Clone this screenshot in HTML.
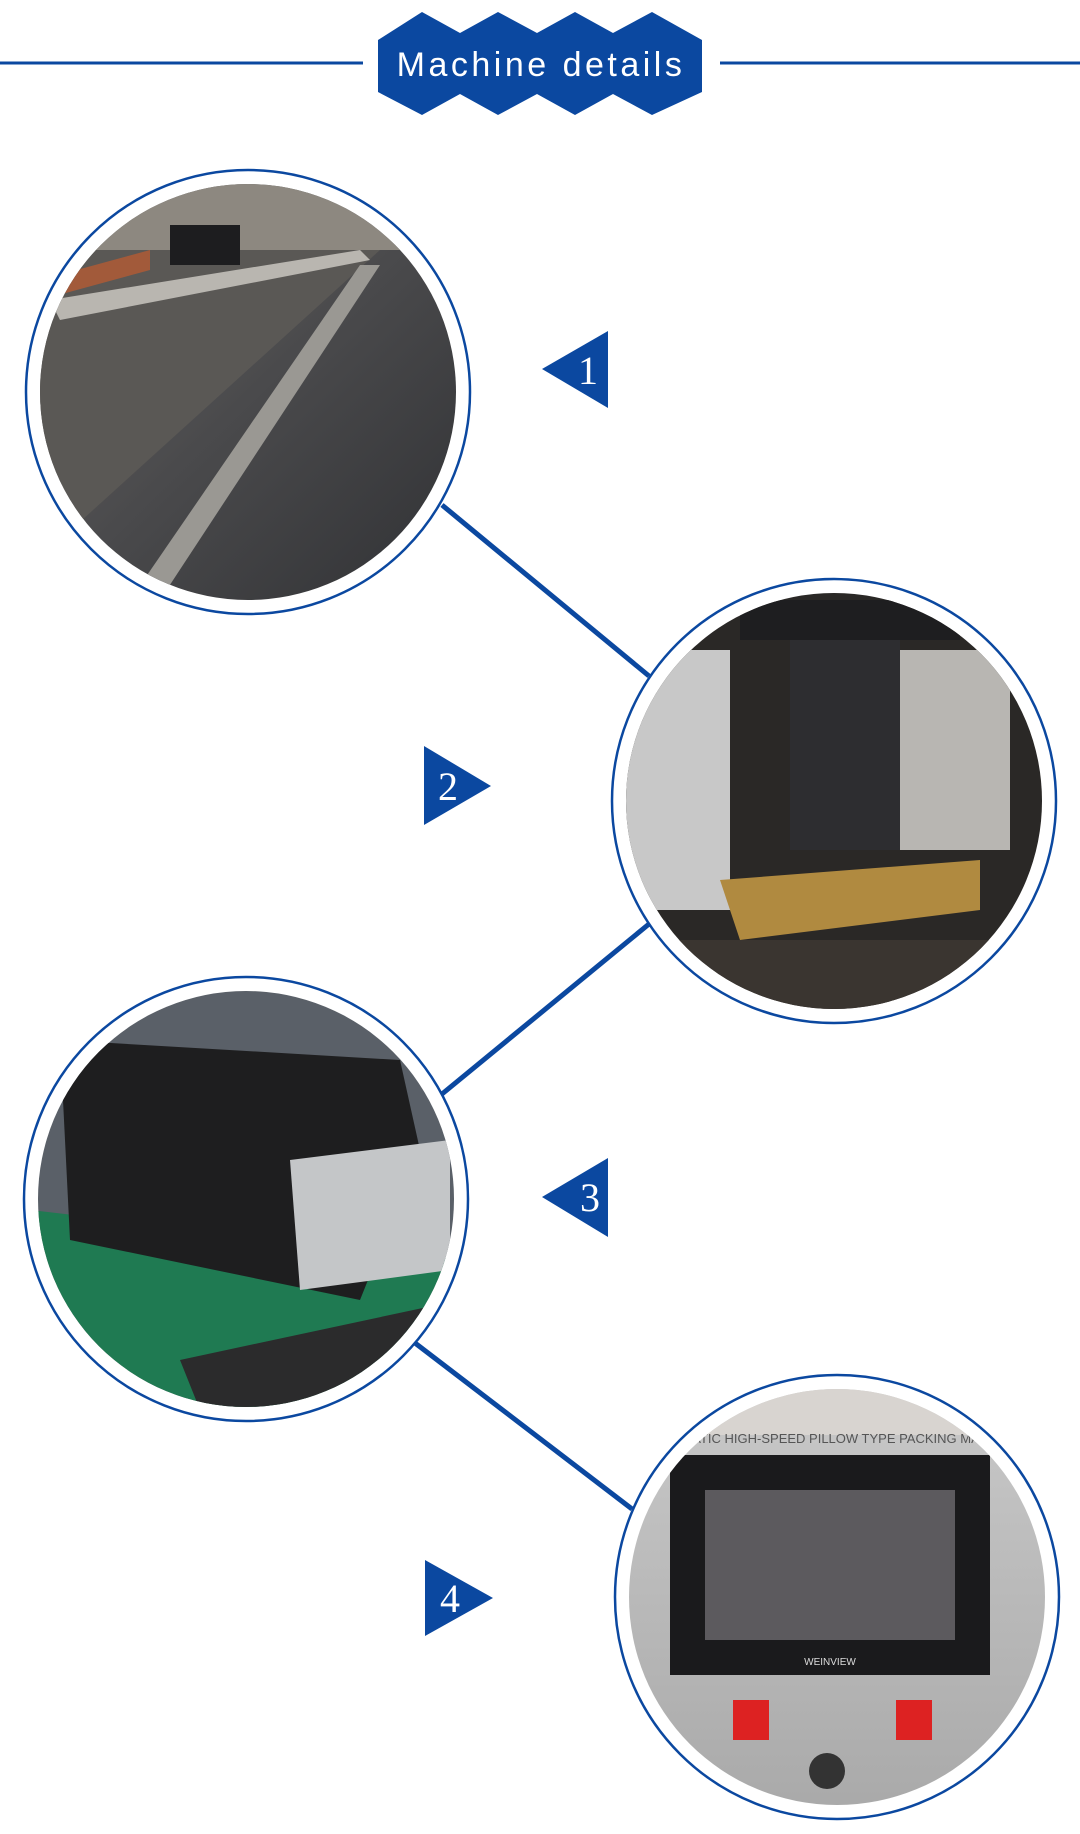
<!DOCTYPE html>
<html><head><meta charset="utf-8"><style>
html,body{margin:0;padding:0;background:#fff;width:1080px;height:1834px;overflow:hidden}
svg{display:block}
</style></head><body>
<svg width="1080" height="1834" viewBox="0 0 1080 1834" xmlns="http://www.w3.org/2000/svg">
<defs>
<clipPath id="c1"><circle cx="248" cy="392" r="208"/></clipPath>
<clipPath id="c2"><circle cx="834" cy="801" r="208"/></clipPath>
<clipPath id="c3"><circle cx="246" cy="1199" r="208"/></clipPath>
<clipPath id="c4"><circle cx="837" cy="1597" r="208"/></clipPath>
<linearGradient id="g1" x1="0" y1="0" x2="1" y2="1"><stop offset="0" stop-color="#6d6a66"/><stop offset="0.5" stop-color="#4a4a4c"/><stop offset="1" stop-color="#2f3033"/></linearGradient>
<linearGradient id="g4" x1="0" y1="0" x2="0" y2="1"><stop offset="0" stop-color="#c9c9c9"/><stop offset="1" stop-color="#a9a9a9"/></linearGradient>
</defs>
<g stroke="#0b48a0" stroke-width="3">
<line x1="0" y1="63" x2="363" y2="63"/><line x1="720" y1="63" x2="1080" y2="63"/>
</g>
<polygon fill="#0b48a0" points="378,40 422,12 460,33 498,12 537,33 575,12 613,33 652,12 702,40 702,92 652,115 613,94 575,115 537,94 498,115 460,94 422,115 378,92"/>
<text x="541" y="76" fill="#fff" font-family="Liberation Sans, sans-serif" font-size="34" letter-spacing="3.5" text-anchor="middle">Machine details</text>

<g stroke="#0b48a0" stroke-width="5">
<line x1="442" y1="505" x2="649" y2="676"/>
<line x1="649" y1="924" x2="442" y2="1094"/>
<line x1="415" y1="1343" x2="632" y2="1509"/>
</g>

<circle cx="248" cy="392" r="222" fill="#fff" stroke="#0b48a0" stroke-width="2.5"/>
<g clip-path="url(#c1)">
<rect x="30" y="180" width="440" height="430" fill="url(#g1)"/>
<rect x="30" y="180" width="440" height="70" fill="#8d8880"/>
<polygon points="30,250 380,250 60,540 30,540" fill="#5a5855"/>
<polygon points="50,300 360,250 370,260 60,320" fill="#b9b6b0"/>
<polygon points="360,265 380,265 160,600 130,600" fill="#9a9893"/>
<rect x="170" y="225" width="70" height="40" fill="#1d1d1f"/>
<polygon points="40,280 150,250 150,270 40,300" fill="#a25a3a"/>
</g>
<circle cx="834" cy="801" r="222" fill="#fff" stroke="#0b48a0" stroke-width="2.5"/>
<g clip-path="url(#c2)">
<rect x="620" y="590" width="430" height="430" fill="#2a2826"/>
<rect x="620" y="650" width="110" height="260" fill="#c8c8c8"/>
<rect x="790" y="630" width="110" height="220" fill="#2d2d30"/>
<rect x="900" y="650" width="110" height="200" fill="#b8b6b2"/>
<polygon points="720,880 980,860 980,910 740,940" fill="#b08a40"/>
<rect x="740" y="600" width="220" height="40" fill="#1e1e20"/>
<rect x="620" y="940" width="430" height="90" fill="#3a3530"/>
</g>
<circle cx="246" cy="1199" r="222" fill="#fff" stroke="#0b48a0" stroke-width="2.5"/>
<g clip-path="url(#c3)">
<rect x="30" y="990" width="440" height="420" fill="#5a6068"/>
<polygon points="30,1210 460,1260 460,1410 30,1410" fill="#1f7a52"/>
<polygon points="60,1040 400,1060 420,1150 360,1300 70,1240" fill="#1e1e1f"/>
<polygon points="290,1160 450,1140 450,1270 300,1290" fill="#c4c6c8"/>
<polygon points="180,1360 460,1300 460,1410 200,1410" fill="#2b2b2c"/>
</g>
<circle cx="837" cy="1597" r="222" fill="#fff" stroke="#0b48a0" stroke-width="2.5"/>
<g clip-path="url(#c4)">
<rect x="620" y="1385" width="440" height="430" fill="url(#g4)"/>
<rect x="620" y="1385" width="440" height="50" fill="#d8d4d0"/>
<text x="840" y="1443" fill="#555" font-family="Liberation Sans, sans-serif" font-size="13" text-anchor="middle">MATIC HIGH-SPEED PILLOW TYPE PACKING MACH</text>
<rect x="670" y="1455" width="320" height="220" fill="#1a1a1c"/>
<rect x="705" y="1490" width="250" height="150" fill="#5c5a5e"/>
<text x="830" y="1665" fill="#ddd" font-family="Liberation Sans, sans-serif" font-size="10" text-anchor="middle">WEINVIEW</text>
<rect x="733" y="1700" width="36" height="40" fill="#d22"/>
<rect x="896" y="1700" width="36" height="40" fill="#d22"/>
<circle cx="827" cy="1771" r="18" fill="#333"/>
</g>

<g fill="#0b48a0">
<polygon points="542,369 608,331 608,408"/>
<polygon points="491,786 424,746 424,825"/>
<polygon points="542,1197 608,1158 608,1237"/>
<polygon points="493,1598 425,1560 425,1636"/>
</g>
<g fill="#fff" font-family="Liberation Serif, serif" font-size="40" text-anchor="middle">
<text x="588" y="384">1</text>
<text x="448" y="800">2</text>
<text x="590" y="1211">3</text>
<text x="450" y="1612">4</text>
</g>
</svg>
</body></html>
